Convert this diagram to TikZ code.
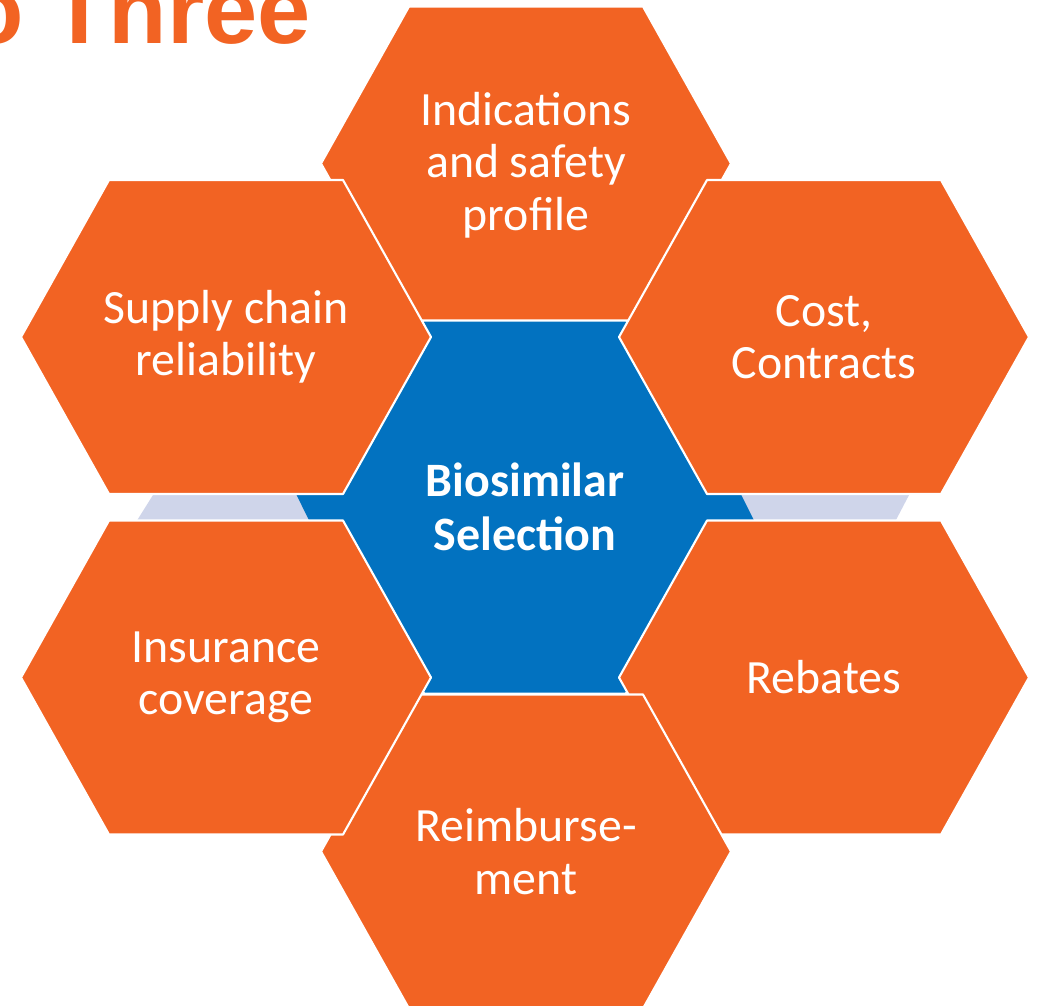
\documentclass[tikz,border=0pt]{standalone}
\usepackage{fontspec}
\setmainfont{Carlito}
\newfontfamily\headfont{Liberation Sans}
\definecolor{hexorange}{RGB}{242,99,35}
\definecolor{hexblue}{RGB}{2,114,192}
\definecolor{bandgrey}{RGB}{207,213,234}

\tikzset{
  hexedge/.style={fill=hexorange, draw=white, line width=1.2pt, line join=round},
  pics/orangehex/.style={code={
    \path[hexedge] (-205,0) -- (-117,-157) -- (117,-157) -- (205,0)
                   -- (117,157) -- (-117,157) -- cycle;
  }},
  hexlabel/.style={text=white, align=center, inner sep=0pt,
                   font=\fontsize{27.2}{29.8}\selectfont},
  corelabel/.style={text=white, align=center, inner sep=0pt,
                    font=\bfseries\fontsize{27.3}{30.8}\selectfont},
}

\begin{document}
\begin{tikzpicture}[x=0.02cm, y=-0.02cm]
\useasboundingbox (0,0) rectangle (1040,1005);
\begin{scope}
\clip (0,0) rectangle (1040,1005);

% heading, running off the top-left edge
\node[anchor=base east, inner sep=0pt, text=hexorange,
      font=\headfont\bfseries\fontsize{54.4}{60}\selectfont] (heading) at (311,43) {o Three};

% pale band behind the cluster
\fill[bandgrey] (160.5,483) -- (915.3,483) -- (891.8,528) -- (132.3,528) -- cycle;

% central hexagon
\fill[hexblue] (425,320.5) -- (625,320.5) -- (735.3,483) -- (757.8,528)
               -- (625,692.5) -- (425,692.5) -- (312.8,528) -- (290.7,483) -- cycle;

% surrounding hexagons, in stacking order
\pic at (526,163.5) {orangehex};
\pic at (824,337) {orangehex};
\pic at (226,337) {orangehex};
\pic at (824,677.5) {orangehex};
\pic at (526,851.5) {orangehex};
\pic at (226,677.5) {orangehex};

% labels
\node[corelabel] (core) at (525,506.5) {Biosimilar\\Selection};
\node[hexlabel] (safety) at (526,165) {Indications\\and safety\\profile};
\node[hexlabel] (cost) at (824,337) {Cost,\\Contracts};
\node[hexlabel] (supply) at (226,337) {Supply chain\\reliability};
\node[hexlabel] (rebates) at (824,677.5) {Rebates};
\node[hexlabel] (reimb) at (526,851.5) {Reimburse-\\ment};
\node[hexlabel] (insurance) at (226,677.5) {Insurance\\coverage};
\end{scope}
\end{tikzpicture}
\end{document}
